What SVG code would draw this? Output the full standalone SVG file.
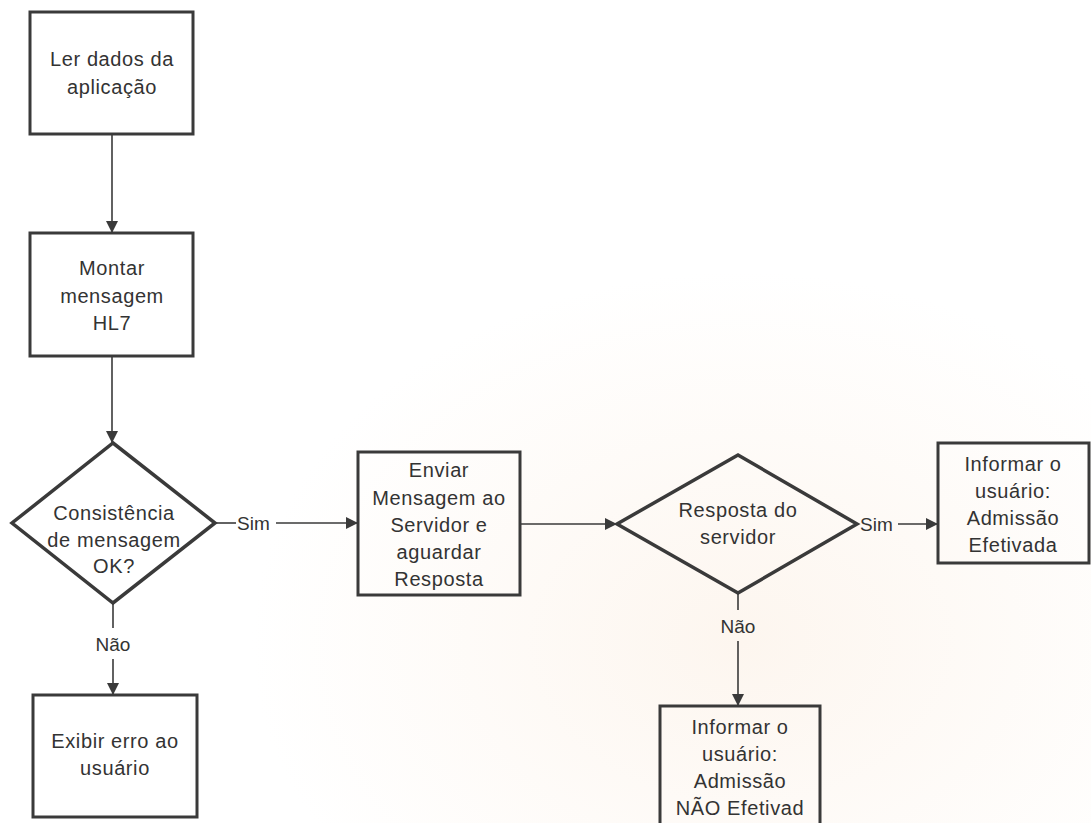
<svg xmlns="http://www.w3.org/2000/svg" width="1091" height="823" viewBox="0 0 1091 823">
  <defs>
    <marker id="arrow" viewBox="0 0 12 12" refX="12" refY="6" markerWidth="12" markerHeight="12" markerUnits="userSpaceOnUse" orient="auto">
      <path d="M0,0 L12,6 L0,12 Z" fill="#3a3a3a"/>
    </marker>
    <radialGradient id="paper" cx="0.68" cy="0.78" r="0.45">
      <stop offset="0" stop-color="#fdf6ef"/>
      <stop offset="1" stop-color="#ffffff"/>
    </radialGradient>
    <style>
      .box { fill: none; stroke: #3a3a3a; stroke-width: 3; }
      .dec { fill: none; stroke: #3a3a3a; stroke-width: 3.5; stroke-linejoin: miter; }
      .edge { fill: none; stroke: #3a3a3a; stroke-width: 1.6; }
      .lbl { font-family: "Liberation Sans", Arial, sans-serif; font-size: 20px; fill: #333333; text-anchor: middle; letter-spacing: 0.6px; }
      .elbl { font-family: "Liberation Sans", Arial, sans-serif; font-size: 19px; fill: #333333; }
    </style>
  </defs>

  <rect x="0" y="0" width="1091" height="823" fill="url(#paper)"/>

  <!-- connectors -->
  <g id="connectors">
    <line class="edge" x1="112" y1="134" x2="112" y2="233" marker-end="url(#arrow)"/>
    <line class="edge" x1="112" y1="356" x2="112" y2="443" marker-end="url(#arrow)"/>
    <line class="edge" x1="215" y1="523" x2="236" y2="523"/>
    <line class="edge" x1="276" y1="523" x2="358" y2="523" marker-end="url(#arrow)"/>
    <text class="elbl" x="237" y="530">Sim</text>
    <line class="edge" x1="113" y1="603" x2="113" y2="628"/>
    <line class="edge" x1="113" y1="659" x2="113" y2="695" marker-end="url(#arrow)"/>
    <text class="elbl" x="113" y="651" text-anchor="middle">Não</text>
    <line class="edge" x1="520" y1="524" x2="617" y2="524" marker-end="url(#arrow)"/>
    <line class="edge" x1="898" y1="524" x2="938" y2="524" marker-end="url(#arrow)"/>
    <text class="elbl" x="860" y="531">Sim</text>
    <line class="edge" x1="738" y1="593" x2="738" y2="610"/>
    <line class="edge" x1="738" y1="641" x2="738" y2="706" marker-end="url(#arrow)"/>
    <text class="elbl" x="738" y="633" text-anchor="middle">Não</text>
  </g>

  <g id="ler-dados">
    <rect class="box" x="30" y="12" width="163" height="122"/>
    <text class="lbl" x="112" y="66">Ler dados da</text>
    <text class="lbl" x="112" y="94">aplicação</text>
  </g>

  <g id="montar-mensagem">
    <rect class="box" x="30" y="233" width="163" height="123"/>
    <text class="lbl" x="112" y="275">Montar</text>
    <text class="lbl" x="112" y="303">mensagem</text>
    <text class="lbl" x="112" y="330">HL7</text>
  </g>

  <g id="consistencia">
    <polygon class="dec" points="113,443 215,523 113,603 12,523"/>
    <text class="lbl" x="114" y="520">Consistência</text>
    <text class="lbl" x="114" y="547">de mensagem</text>
    <text class="lbl" x="114" y="573">OK?</text>
  </g>

  <g id="enviar-mensagem">
    <rect class="box" x="358" y="452" width="162" height="143"/>
    <text class="lbl" x="439" y="477">Enviar</text>
    <text class="lbl" x="439" y="505">Mensagem ao</text>
    <text class="lbl" x="439" y="532">Servidor e</text>
    <text class="lbl" x="439" y="559">aguardar</text>
    <text class="lbl" x="439" y="586">Resposta</text>
  </g>

  <g id="resposta-servidor">
    <polygon class="dec" points="738,455 857,524 738,593 617,524"/>
    <text class="lbl" x="738" y="517">Resposta do</text>
    <text class="lbl" x="738" y="544">servidor</text>
  </g>

  <g id="admissao-efetivada">
    <rect class="box" x="938" y="443" width="151" height="120"/>
    <text class="lbl" x="1013" y="471">Informar o</text>
    <text class="lbl" x="1013" y="498">usuário:</text>
    <text class="lbl" x="1013" y="525">Admissão</text>
    <text class="lbl" x="1013" y="552">Efetivada</text>
  </g>

  <g id="admissao-nao-efetivada">
    <rect class="box" x="660" y="706" width="160" height="130"/>
    <text class="lbl" x="740" y="734">Informar o</text>
    <text class="lbl" x="740" y="761">usuário:</text>
    <text class="lbl" x="740" y="788">Admissão</text>
    <text class="lbl" x="740" y="815">NÃO Efetivad</text>
  </g>

  <g id="exibir-erro">
    <rect class="box" x="33" y="695" width="164" height="122"/>
    <text class="lbl" x="115" y="748">Exibir erro ao</text>
    <text class="lbl" x="115" y="775">usuário</text>
  </g>
</svg>
